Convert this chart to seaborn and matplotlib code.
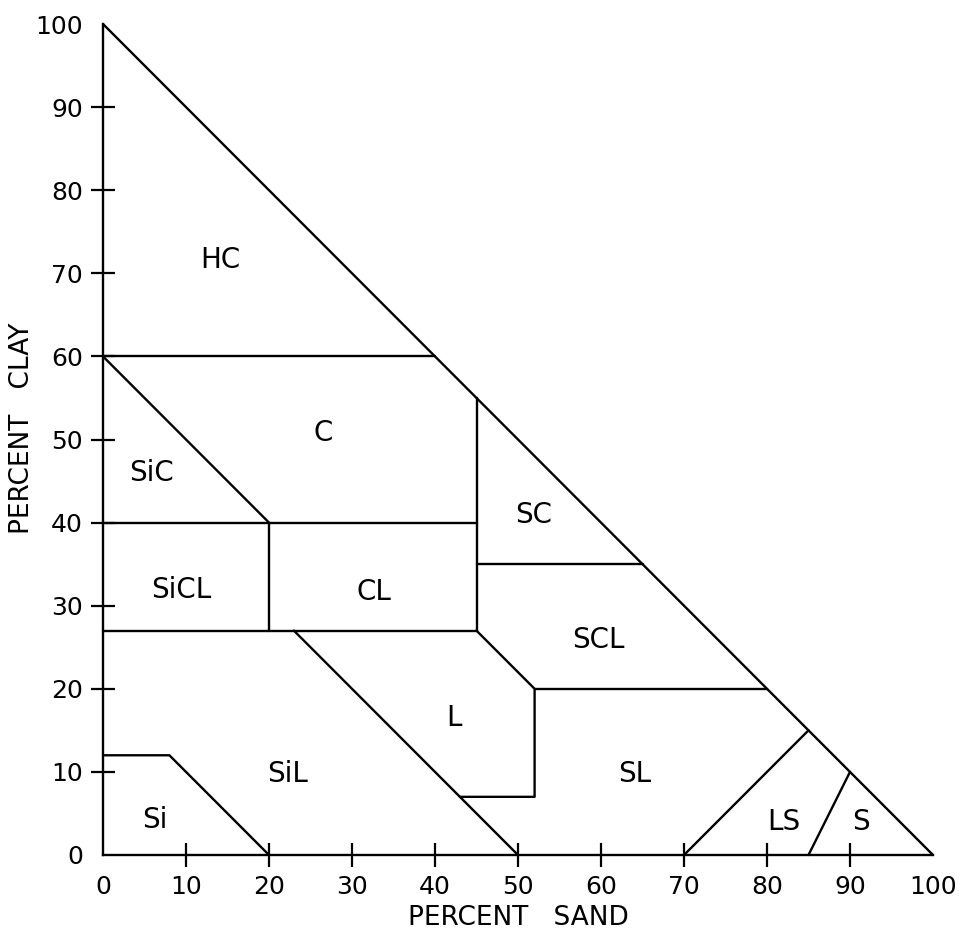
import matplotlib
matplotlib.use("Agg")
import matplotlib.pyplot as plt
import pandas as pd
import seaborn as sns

# Boundaries of the texture classes (x = percent sand, y = percent clay)
hyp_sand = [0, 100]
hyp_clay = [100, 0]
hc_sand = [0, 40]
hc_clay = [60, 60]
sic_sand = [0, 20]
sic_clay = [60, 40]
c40_sand = [0, 45]
c40_clay = [40, 40]
sicl_sand = [20, 20]
sicl_clay = [40, 27]
sc_sand = [45, 45]
sc_clay = [55, 27]
scl_sand = [45, 65]
scl_clay = [35, 35]
c27_sand = [0, 45]
c27_clay = [27, 27]
l_sand = [45, 52, 52, 43]
l_clay = [27, 20, 7, 7]
sil_sand = [23, 50]
sil_clay = [27, 0]
sl_sand = [52, 80]
sl_clay = [20, 20]
si_sand = [0, 8, 20]
si_clay = [12, 12, 0]
ls_sand = [70, 85]
ls_clay = [0, 15]
s_sand = [85, 90]
s_clay = [0, 10]

# Class names and where they are written
class_names = ["HC", "C", "SiC", "SiCL", "CL", "SC", "SCL", "L", "SiL", "SL", "Si", "LS", "S"]
class_sand = [14.1, 26.5, 5.9, 9.4, 32.7, 51.9, 59.7, 42.3, 22.2, 64.0, 6.3, 82.0, 91.3]
class_clay = [71.6, 50.8, 46.0, 31.9, 31.6, 40.9, 25.9, 16.5, 9.8, 9.8, 4.2, 4.0, 4.0]

ticks = [0, 10, 20, 30, 40, 50, 60, 70, 80, 90, 100]

segments = [
    (hyp_sand, hyp_clay), (hc_sand, hc_clay), (sic_sand, sic_clay),
    (c40_sand, c40_clay), (sicl_sand, sicl_clay), (sc_sand, sc_clay),
    (scl_sand, scl_clay), (c27_sand, c27_clay), (l_sand, l_clay),
    (sil_sand, sil_clay), (sl_sand, sl_clay), (si_sand, si_clay),
    (ls_sand, ls_clay), (s_sand, s_clay),
]
rows = []
for i, (xs, ys) in enumerate(segments):
    for k, (x, y) in enumerate(zip(xs, ys)):
        rows.append({"seg": i, "order": k, "sand": x, "clay": y})
df = pd.DataFrame(rows)

sns.set_theme(style="ticks")
plt.rcParams["font.family"] = ["DejaVu Sans"]

fig = plt.figure(figsize=(9.64, 9.35), dpi=100)
ax = fig.add_axes([103 / 964, 80 / 935, 830 / 964, 831 / 935])

sns.lineplot(data=df, x="sand", y="clay", units="seg", estimator=None,
             sort=False, color="black", linewidth=1.7, ax=ax)
for line in ax.lines:
    line.set_clip_on(False)

for name, x, y in zip(class_names, class_sand, class_clay):
    ax.text(x, y, name, ha="center", va="center", fontsize=20, color="black")

ax.set_xlim(0, 100)
ax.set_ylim(0, 100)
ax.set_xticks(ticks)
ax.set_yticks(ticks)
ax.set_xticklabels([str(t) for t in ticks])
ax.set_yticklabels([str(t) for t in ticks])
ax.tick_params(direction="inout", length=17, width=1.6, pad=6,
               labelsize=18, colors="black")
for axis in (ax.xaxis, ax.yaxis):
    tks = axis.get_major_ticks()
    for idx in (0, len(tks) - 1):
        tks[idx].tick1line.set_visible(False)

sns.despine(ax=ax)
for side in ("left", "bottom"):
    ax.spines[side].set_linewidth(1.7)
    ax.spines[side].set_color("black")
ax.set_xlabel("")
ax.set_ylabel("")

fig.text(518 / 964, 1 - 918 / 935, "PERCENT   SAND", ha="center", va="center",
         fontsize=19, color="black")
fig.text(22 / 964, 1 - 428 / 935, "PERCENT   CLAY", ha="center", va="center",
         rotation=90, fontsize=19, color="black")

fig.savefig("out.png", dpi=100, facecolor="white")
